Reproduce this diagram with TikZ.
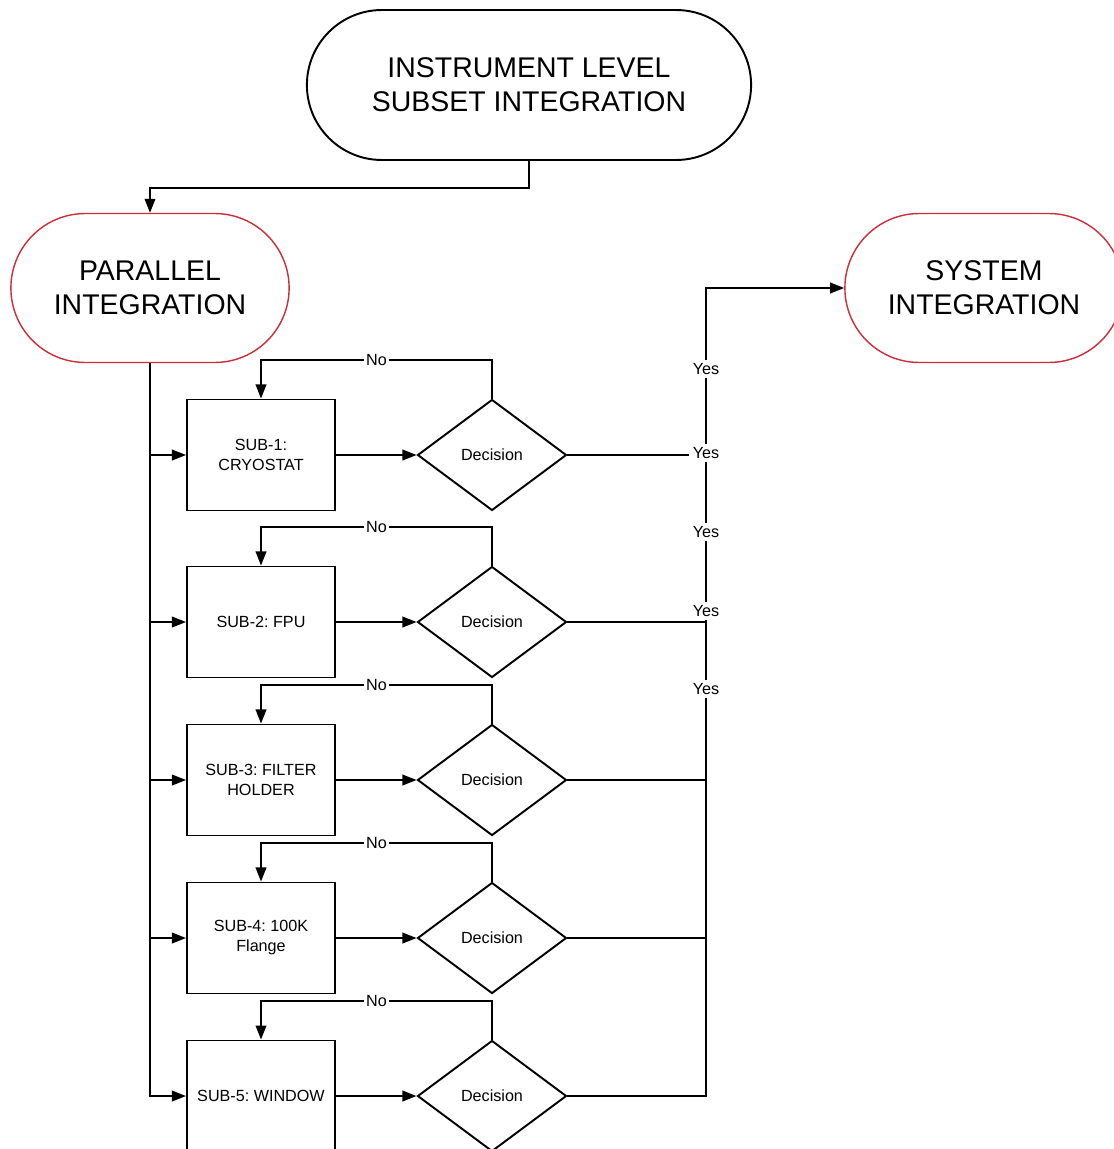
\documentclass[tikz,border=0pt]{standalone}
\usepackage{fontspec}
\setmainfont{Liberation Sans}
\usetikzlibrary{arrows.meta,shapes.misc,shapes.geometric}
\definecolor{termred}{RGB}{206,45,55}
\frenchspacing

\begin{document}
\begin{tikzpicture}[x=0.02cm,y=-0.02cm,>={Triangle[length=8pt,width=6pt]},
  line width=1.1pt,
  term node/.style={rounded rectangle,draw,align=center,
    font=\fontsize{16.2}{19.3}\selectfont},
  red node/.style={term node,draw=termred,line width=0.8pt,
    minimum width=5.8cm,minimum height=2.98cm},
  sub node/.style={rectangle,draw,align=center,minimum width=2.96cm,
    minimum height=2.22cm,font=\fontsize{9.2}{11.4}\selectfont},
  dec node/.style={diamond,draw,inner sep=0pt,minimum width=2.98cm,
    minimum height=2.22cm,font=\fontsize{9.2}{11.4}\selectfont},
  lbl node/.style={fill=white,inner sep=1pt,font=\fontsize{9.2}{11.4}\selectfont}]

  \useasboundingbox (0,0) rectangle (1113,1149);

  \node[term node,minimum width=9.12cm,minimum height=3cm] (inst) at (529,85)
    {INSTRUMENT LEVEL\\SUBSET INTEGRATION};
  \node[red node] (par) at (150,288) {PARALLEL\\INTEGRATION};
  \node[red node] (sys) at (984,288) {SYSTEM\\INTEGRATION};

  \node[sub node] (s1) at (261,455) {SUB-1:\\CRYOSTAT};
  \node[sub node] (s2) at (261,622) {SUB-2: FPU};
  \node[sub node] (s3) at (261,780) {SUB-3: FILTER\\HOLDER};
  \node[sub node] (s4) at (261,938) {SUB-4: 100K\\Flange};
  \node[sub node] (s5) at (261,1096) {SUB-5: WINDOW};

  \foreach \i/\y in {1/455,2/622,3/780,4/938,5/1096}
    \node[dec node] (d\i) at (492,\y) {Decision};

  \coordinate (ybend) at (706,288);

  % top to parallel
  \draw[->] (inst.south) -- ++(0,27) -| (par.north);

  % trunk to the subsets
  \draw[->] (par.south) |- (s5.west);
  \foreach \i in {1,...,4}
    \draw[->] (par.south |- s\i.west) -- (s\i.west);

  % subset to decision, and the No loops
  \foreach \i in {1,...,5} {
    \draw[->] (s\i) -- (d\i);
    \draw[->] (d\i.north) -- ++(0,-39) -| node[lbl node,pos=0.25] {No} (s\i.north);
  }

  % Yes lines
  \draw[->] (d5.east) -| (ybend) -- (sys.west);
  \foreach \i in {1,...,4}
    \draw (d\i.east) -- (d\i.east -| ybend);

  \node[lbl node,inner sep=2pt] (y1) at (706,369) {Yes};
  \node[lbl node,inner sep=2pt] (y2) at (706,453) {Yes};
  \node[lbl node,inner sep=2pt] (y3) at (706,532) {Yes};
  \node[lbl node,inner sep=2pt] (y4) at (706,611) {Yes};
  \node[lbl node,inner sep=2pt] (y5) at (706,689) {Yes};
\end{tikzpicture}
\end{document}
